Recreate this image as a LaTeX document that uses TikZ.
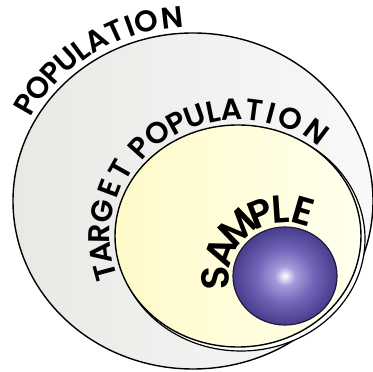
\documentclass[tikz,border=0pt]{standalone}
\usepackage{fontspec}
\newfontfamily\pf{Poppins}[UprightFont={* SemiBold}]
\definecolor{ringL}{RGB}{232,232,229}
\definecolor{ringR}{RGB}{249,249,249}
\definecolor{tgtL}{RGB}{255,250,200}
\definecolor{tgtR}{RGB}{255,255,238}
\definecolor{sphA}{RGB}{165,155,220}
\definecolor{sphB}{RGB}{112,100,185}
\definecolor{sphC}{RGB}{72,60,140}
\definecolor{sphEdge}{RGB}{30,25,60}
\pgfdeclareradialshading{spheresh}{\pgfpoint{0bp}{0bp}}{color(0bp)=(white); color(5bp)=(sphA); color(14bp)=(sphB); color(25bp)=(sphC); color(50bp)=(sphC)}
\tikzset{
  rim/.style={draw=black, line width=1.4pt},
  lettr/.style={inner sep=0pt, anchor=base, text=black}
}
% #1 name prefix, #2 cx, #3 cy, #4 rx/100, #5 ry/100, #6 offset, #7 font size, #8 letter/angle list
\newcommand\ringletters[8]{%
  \foreach \ch/\a [count=\i] in {#8} {%
    \pgfmathsetmacro\rr{100*#4*#5/sqrt((#5*cos(\a))^2+(#4*sin(\a))^2)+#6}%
    \pgfmathsetmacro\px{#2+\rr*cos(\a)}%
    \pgfmathsetmacro\py{#3+\rr*sin(\a)}%
    \node[lettr, rotate=\a-90, font=\pf\fontsize{#7}{#7}\selectfont] (#1\i) at (\px,\py) {\ch};
  }%
}
\begin{document}
\begin{tikzpicture}[x=1pt,y=1pt]
\useasboundingbox (0,0) rectangle (373,372);
% population
\path[rim, left color=ringL, right color=ringR] (193,171) ellipse[x radius=180, y radius=168];
% shadow of target
\path[draw=black, line width=1.2pt, fill=white] (241,133) ellipse[x radius=124, y radius=112];
% target population
\path[rim, left color=tgtL, right color=tgtR] (238,136) ellipse[x radius=123, y radius=111];
% sample
\path[shade, shading=spheresh, draw=sphEdge, line width=1.2pt] (285,96) ellipse[x radius=52, y radius=49];
% labels
\ringletters{pop}{193}{171}{1.80}{1.68}{6}{30}{P/150, O/143.8, P/137.7, U/132, L/126.6, A/120.9, T/114.6, I/109.8, O/104.5, N/96.5}
\ringletters{tgt}{238}{136}{1.23}{1.11}{5}{30}{T/195, A/187, R/179, G/169.5, E/159.5, T/150.5, P/138, O/128, P/118.5, U/109.8, L/101.5, A/92.8, T/82.6, I/75, O/65.6, N/53}
\ringletters{smp}{285}{96}{0.52}{0.49}{4}{39}{S/182, A/159, M/134, P/111.5, L/94, E/74}
\end{tikzpicture}
\end{document}
